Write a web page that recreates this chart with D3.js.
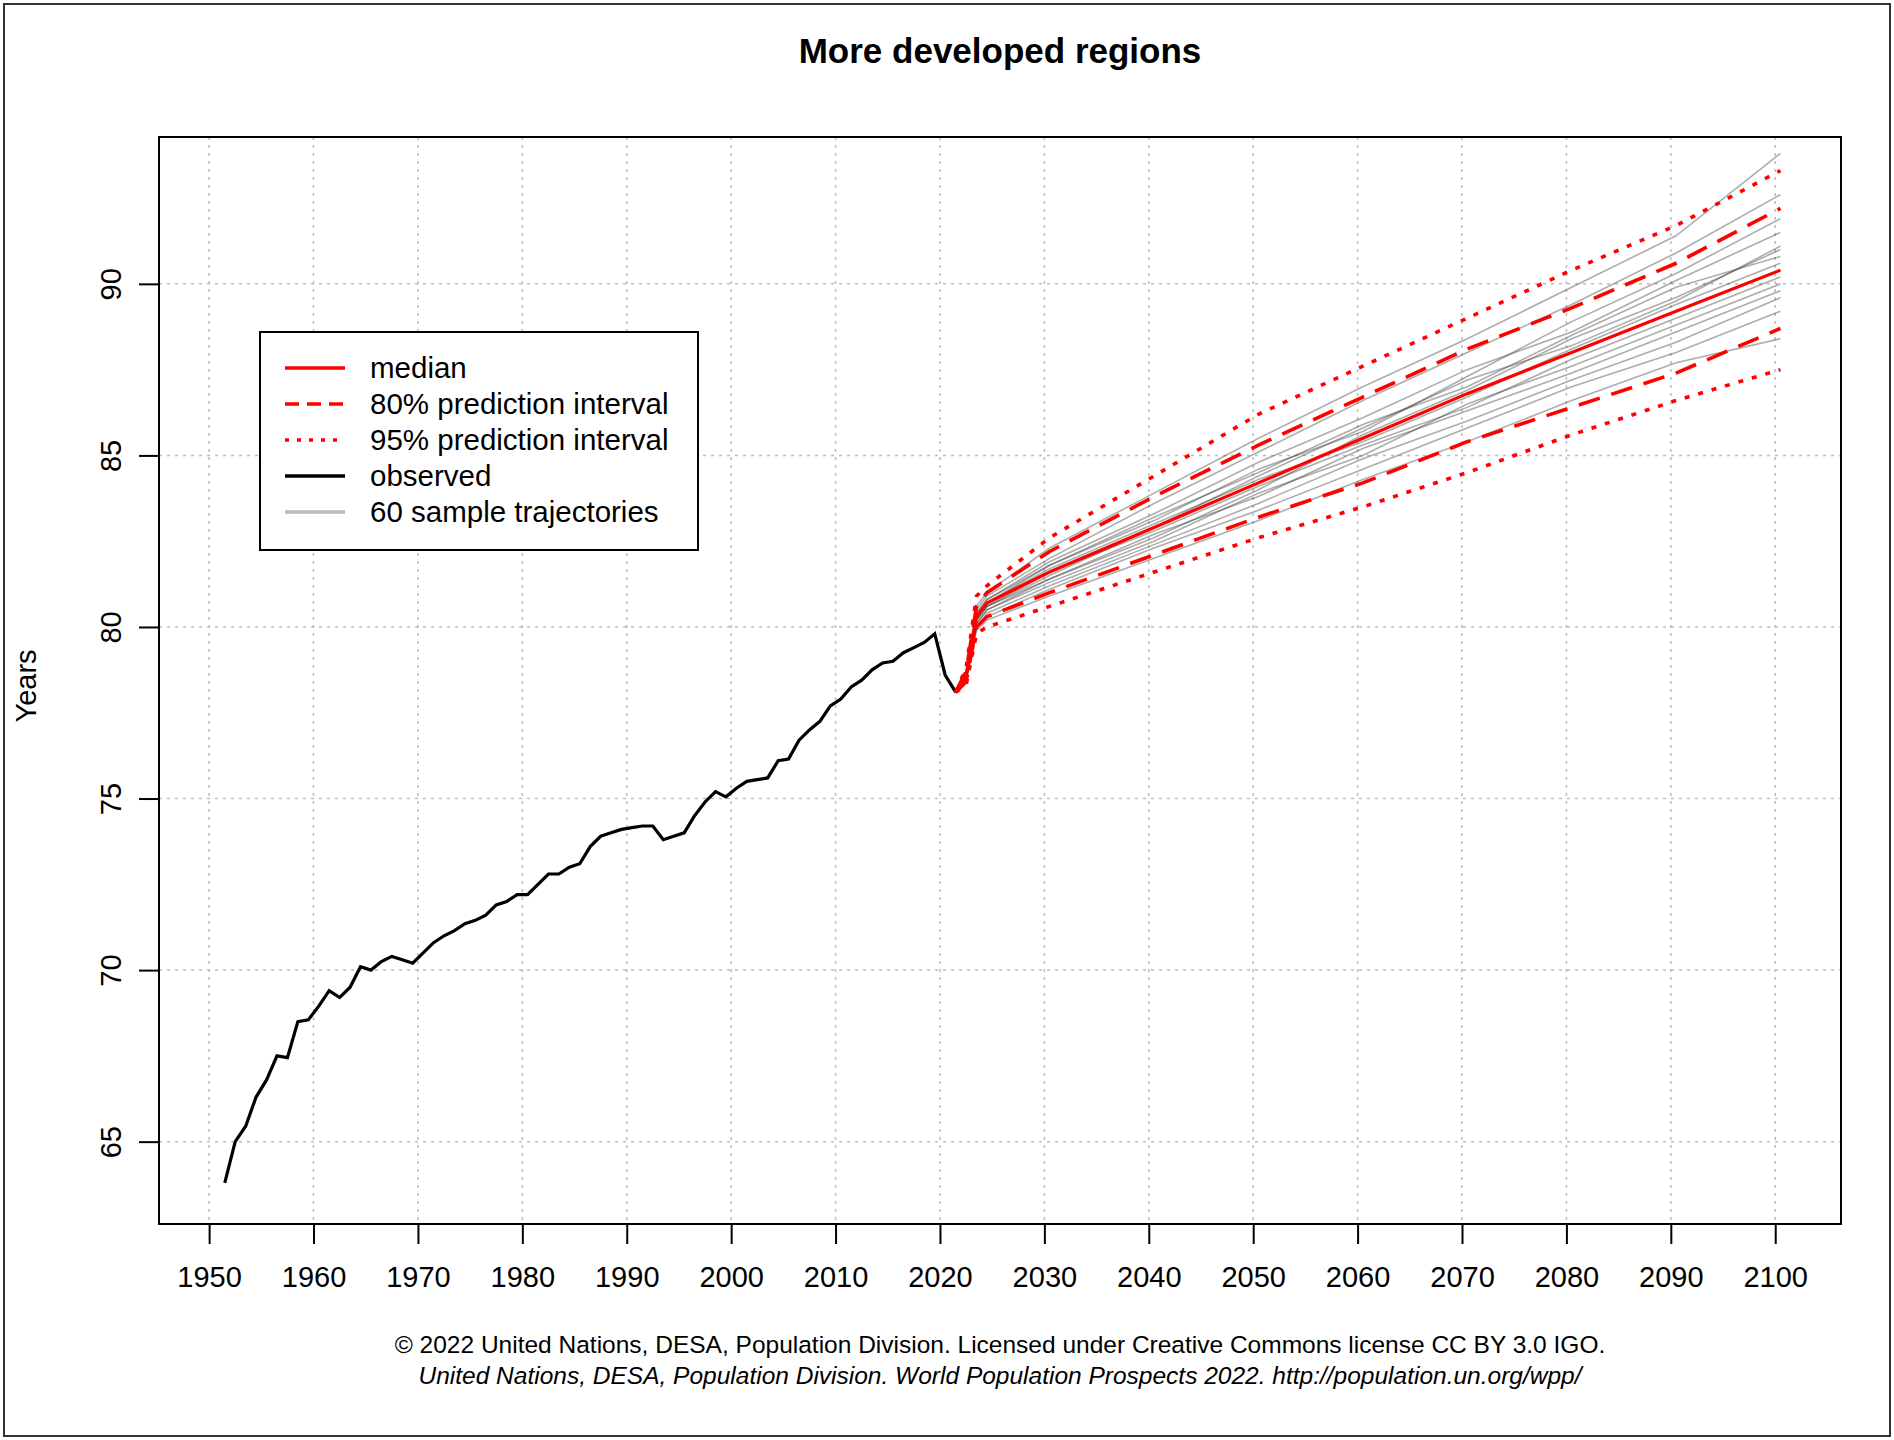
<!DOCTYPE html>
<html>
<head>
<meta charset="utf-8">
<script src="https://cdn.jsdelivr.net/npm/d3@7"></script>
<style>
body { margin: 0; background: #fff; }
text { font-family: "Liberation Sans", Arial, sans-serif; }
</style>
</head>
<body>
<div id="chart"></div>
<script>
// observed life expectancy, 1951..2021
var obsYears = d3.range(1951, 2022);
var obsValues = [63.8, 65.0, 65.45, 66.3, 66.8, 67.5, 67.45, 68.5, 68.55, 68.95,
  69.4, 69.2, 69.5, 70.1, 70.0, 70.25, 70.4, 70.3, 70.2, 70.5,
  70.8, 71.0, 71.15, 71.35, 71.45, 71.6, 71.9, 72.0, 72.2, 72.2,
  72.5, 72.8, 72.8, 73.0, 73.1, 73.6, 73.9, 74.0, 74.1, 74.15,
  74.2, 74.2, 73.8, 73.9, 74.0, 74.5, 74.9, 75.2, 75.05, 75.3,
  75.5, 75.55, 75.6, 76.1, 76.15, 76.7, 77.0, 77.25, 77.7, 77.9,
  78.25, 78.45, 78.75, 78.95, 79.0, 79.25, 79.4, 79.55, 79.8, 78.6, 78.1];

var projYears = [2021, 2022, 2023, 2024, 2030, 2040, 2050, 2060, 2070, 2080, 2090, 2100];
var median  = [78.1, 78.6, 80.3, 80.7, 81.6, 82.9, 84.2, 85.5, 86.8, 88.0, 89.2, 90.4];
var upper80 = [78.1, 78.7, 80.6, 81.0, 82.2, 83.8, 85.3, 86.7, 88.1, 89.3, 90.6, 92.2];
var lower80 = [78.1, 78.4, 80.0, 80.3, 81.0, 82.1, 83.2, 84.2, 85.4, 86.4, 87.4, 88.7];
var upper95 = [78.1, 78.8, 80.9, 81.2, 82.6, 84.4, 86.2, 87.6, 89.0, 90.4, 91.7, 93.3];
var lower95 = [78.1, 78.3, 79.8, 80.0, 80.6, 81.6, 82.6, 83.5, 84.5, 85.6, 86.6, 87.5];

var trajectories = [
  [78.1, 78.5, 80.2, 80.6, 81.4, 82.6, 84.0, 85.6, 86.9, 88.4, 89.6, 91.0],
  [78.1, 78.6, 80.4, 80.8, 81.9, 83.3, 84.8, 86.1, 87.5, 88.6, 90.1, 91.5],
  [78.1, 78.4, 80.0, 80.4, 81.2, 82.4, 83.6, 84.9, 86.0, 87.2, 88.3, 89.6],
  [78.1, 78.6, 80.5, 80.9, 82.0, 83.6, 85.1, 86.6, 88.0, 89.4, 90.9, 92.6],
  [78.1, 78.5, 80.1, 80.5, 81.3, 82.5, 83.9, 85.0, 86.5, 87.6, 88.8, 90.0],
  [78.1, 78.6, 80.3, 80.7, 81.7, 83.0, 84.3, 85.4, 86.7, 88.1, 89.4, 90.6],
  [78.1, 78.4, 79.9, 80.2, 80.9, 82.0, 83.1, 84.3, 85.4, 86.6, 87.7, 88.4],
  [78.1, 78.7, 80.6, 81.0, 82.3, 83.9, 85.5, 87.0, 88.4, 89.9, 91.4, 93.8],
  [78.1, 78.5, 80.2, 80.6, 81.5, 82.9, 84.4, 85.8, 87.2, 88.2, 89.5, 91.1],
  [78.1, 78.5, 80.3, 80.7, 81.8, 83.2, 84.5, 85.9, 87.0, 88.5, 89.9, 90.8],
  [78.1, 78.4, 80.0, 80.3, 81.1, 82.3, 83.4, 84.6, 85.8, 87.0, 88.0, 89.2],
  [78.1, 78.6, 80.4, 80.8, 81.8, 83.1, 84.6, 85.7, 87.3, 88.9, 90.3, 91.9],
  [78.1, 78.5, 80.2, 80.6, 81.6, 82.8, 84.1, 85.3, 86.4, 87.8, 89.0, 90.2],
  [78.1, 78.5, 80.1, 80.5, 81.4, 82.7, 83.8, 85.2, 86.3, 87.4, 88.6, 89.8]
];

var xTicks = d3.range(1950, 2101, 10);
var yTicks = [65, 70, 75, 80, 85, 90];

var legendItems = [
  {label: "median", color: "red", dash: null},
  {label: "80% prediction interval", color: "red", dash: "14,8"},
  {label: "95% prediction interval", color: "red", dash: "4,8"},
  {label: "observed", color: "black", dash: null},
  {label: "60 sample trajectories", color: "#bbbbbb", dash: null}
];

var W = 1894, H = 1440;
var box = {left: 159, right: 1841, top: 137, bottom: 1224};

var svg = d3.select("#chart").append("svg").attr("width", W).attr("height", H);

svg.append("rect").attr("x", 4).attr("y", 4).attr("width", W - 8).attr("height", H - 8)
  .attr("fill", "none").attr("stroke", "#333").attr("stroke-width", 2);

var x = d3.scaleLinear().domain([1945.2, 2106.3]).range([box.left, box.right]);
var y = d3.scaleLinear().domain([62.6, 94.28]).range([box.bottom, box.top]);

// grid
svg.selectAll(".vgrid").data(xTicks).enter().append("line")
  .attr("x1", d => x(d)).attr("x2", d => x(d)).attr("y1", box.top).attr("y2", box.bottom)
  .attr("stroke", "#bbb").attr("stroke-width", 1.5).attr("stroke-dasharray", "3,5");
svg.selectAll(".hgrid").data(yTicks).enter().append("line")
  .attr("x1", box.left).attr("x2", box.right).attr("y1", d => y(d)).attr("y2", d => y(d))
  .attr("stroke", "#bbb").attr("stroke-width", 1.5).attr("stroke-dasharray", "3,5");

var line = d3.line().x(d => x(d[0])).y(d => y(d[1]));
function pairs(ys, vs) { return ys.map((yr, i) => [yr + 0.5, vs[i]]); }

var clip = svg.append("clipPath").attr("id", "clip").append("rect")
  .attr("x", box.left).attr("y", box.top).attr("width", box.right - box.left).attr("height", box.bottom - box.top);
var plot = svg.append("g").attr("clip-path", "url(#clip)");

trajectories.forEach(function(t) {
  plot.append("path").attr("d", line(pairs(projYears, t)))
    .attr("fill", "none").attr("stroke", "#333").attr("stroke-opacity", 0.4).attr("stroke-width", 1.6);
});

plot.append("path").attr("d", line(pairs(obsYears, obsValues)))
  .attr("fill", "none").attr("stroke", "black").attr("stroke-width", 3.2);

plot.append("path").attr("d", line(pairs(projYears, median)))
  .attr("fill", "none").attr("stroke", "red").attr("stroke-width", 3.2);
[upper80, lower80].forEach(function(s) {
  plot.append("path").attr("d", line(pairs(projYears, s)))
    .attr("fill", "none").attr("stroke", "red").attr("stroke-width", 3.6).attr("stroke-dasharray", "22,12");
});
[upper95, lower95].forEach(function(s) {
  plot.append("path").attr("d", line(pairs(projYears, s)))
    .attr("fill", "none").attr("stroke", "red").attr("stroke-width", 3.6).attr("stroke-dasharray", "5,9");
});

// box
svg.append("rect").attr("x", box.left).attr("y", box.top)
  .attr("width", box.right - box.left).attr("height", box.bottom - box.top)
  .attr("fill", "none").attr("stroke", "black").attr("stroke-width", 2);

// x axis
var xa = svg.append("g").attr("transform", "translate(0," + box.bottom + ")")
  .call(d3.axisBottom(x).tickValues(xTicks).tickFormat(d3.format("d")).tickSize(20).tickPadding(22));
xa.select(".domain").remove();
xa.selectAll("line").attr("stroke-width", 2);
xa.selectAll("text").attr("font-size", 29).attr("fill", "black").attr("font-family", "Liberation Sans, Arial, sans-serif");

// y axis
var ya = svg.append("g").attr("transform", "translate(" + box.left + ",0)")
  .call(d3.axisLeft(y).tickValues(yTicks).tickSize(20).tickPadding(0));
ya.select(".domain").remove();
ya.selectAll("line").attr("stroke-width", 2);
ya.selectAll("text").remove();
ya.selectAll(".tick").append("text")
  .attr("transform", "translate(-48,0) rotate(-90)")
  .attr("text-anchor", "middle").attr("dy", "0.35em")
  .attr("font-size", 29).attr("fill", "black").text(d => d);

svg.append("text").attr("transform", "translate(26,686) rotate(-90)")
  .attr("text-anchor", "middle").attr("dy", "0.35em").attr("font-size", 29).text("Years");

svg.append("text").attr("x", 1000).attr("y", 63).attr("text-anchor", "middle")
  .attr("font-size", 35).attr("font-weight", "bold").text("More developed regions");

svg.append("text").attr("x", 1000).attr("y", 1353).attr("text-anchor", "middle").attr("font-size", 24.5)
  .text("© 2022 United Nations, DESA, Population Division. Licensed under Creative Commons license CC BY 3.0 IGO.");
svg.append("text").attr("x", 1000).attr("y", 1384).attr("text-anchor", "middle").attr("font-size", 24.5)
  .attr("font-style", "italic")
  .text("United Nations, DESA, Population Division. World Population Prospects 2022. http://population.un.org/wpp/");

// legend
var lg = {x: 260, y: 332, w: 438, h: 218};
svg.append("clipPath").attr("id", "lclip").append("rect")
  .attr("x", lg.x).attr("y", lg.y).attr("width", lg.w).attr("height", lg.h);
svg.append("rect").attr("x", lg.x).attr("y", lg.y).attr("width", lg.w).attr("height", lg.h)
  .attr("fill", "white").attr("stroke", "black").attr("stroke-width", 2);
var lgg = svg.append("g").attr("clip-path", "url(#lclip)");
legendItems.forEach(function(d, i) {
  var yy = lg.y + 36 + i * 36;
  lgg.append("line").attr("x1", lg.x + 25).attr("x2", lg.x + 85).attr("y1", yy).attr("y2", yy)
    .attr("stroke", d.color).attr("stroke-width", 3.4).attr("stroke-dasharray", d.dash);
  lgg.append("text").attr("x", lg.x + 110).attr("y", yy).attr("dy", "0.35em")
    .attr("font-size", 29.5).text(d.label);
});
</script>
</body>
</html>
